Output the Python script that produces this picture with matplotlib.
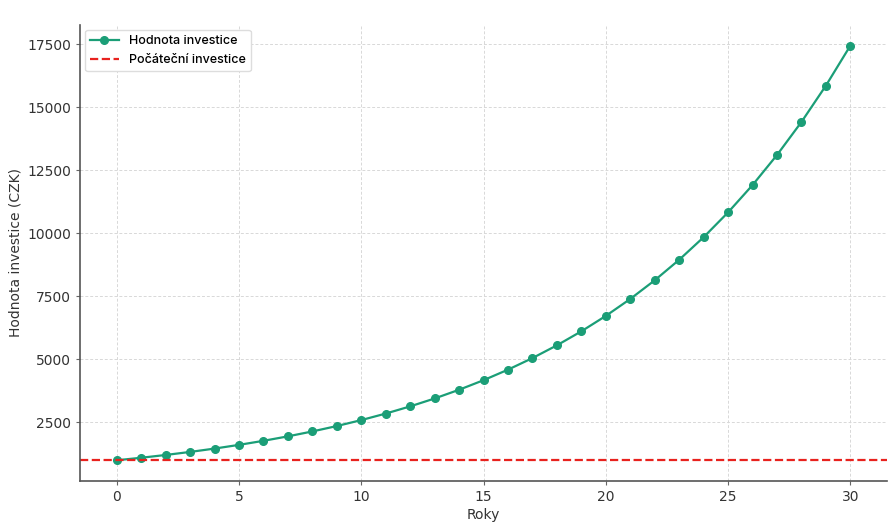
import numpy as np
import matplotlib as mpl
import matplotlib.pyplot as plt

# Font
mpl.rcParams['font.family'] = ['DejaVu Sans']

# Data
years = list(range(0, 31))
values = [1000, 1100, 1210, 1331, 1464, 1611, 1772, 1949, 2144, 2358,
          2594, 2853, 3138, 3452, 3797, 4177, 4595, 5054, 5560, 6116,
          6727, 7400, 8140, 8954, 9850, 10835, 11918, 13110, 14421, 15863,
          17449]
initial = 1000
label_line = 'Hodnota investice'
label_initial = 'Počáteční investice'

text_color = '#333333'

fig = plt.figure(figsize=(8.92, 5.28), dpi=100)
ax = fig.add_axes([0.0897, 0.089, 0.9047, 0.8637])

ax.plot(years, values, color='#1b9e77', marker='o', markersize=5.5,
        linewidth=1.6, label=label_line)
ax.axhline(initial, color='#e8221e', linestyle='--', linewidth=1.6,
           label=label_initial)

ax.set_xlabel('Roky', fontsize=10, color=text_color, labelpad=3)
ax.set_ylabel('Hodnota investice (CZK)', fontsize=10, color=text_color,
              labelpad=3)
ax.set_xticks([0, 5, 10, 15, 20, 25, 30])
ax.set_yticks([2500, 5000, 7500, 10000, 12500, 15000, 17500])
ax.tick_params(axis='both', labelsize=10, labelcolor=text_color,
               color='#666666', length=3)

# Spines
ax.spines['top'].set_visible(False)
ax.spines['right'].set_visible(False)
for spine in ['left', 'bottom']:
    ax.spines[spine].set_color('#555555')
    ax.spines[spine].set_linewidth(1.2)

ax.grid(True, linestyle=(0, (3, 2)), color='#d8d8d8', linewidth=0.7)
ax.set_axisbelow(True)

ax.legend(loc='upper left', framealpha=1, edgecolor='#dddddd',
          borderaxespad=0.4, handlelength=2.3, labelspacing=0.6,
          prop={'family': ['Inter', 'DejaVu Sans'], 'size': 9,
                'weight': 'medium'})

fig.savefig('out.png', dpi=100)
